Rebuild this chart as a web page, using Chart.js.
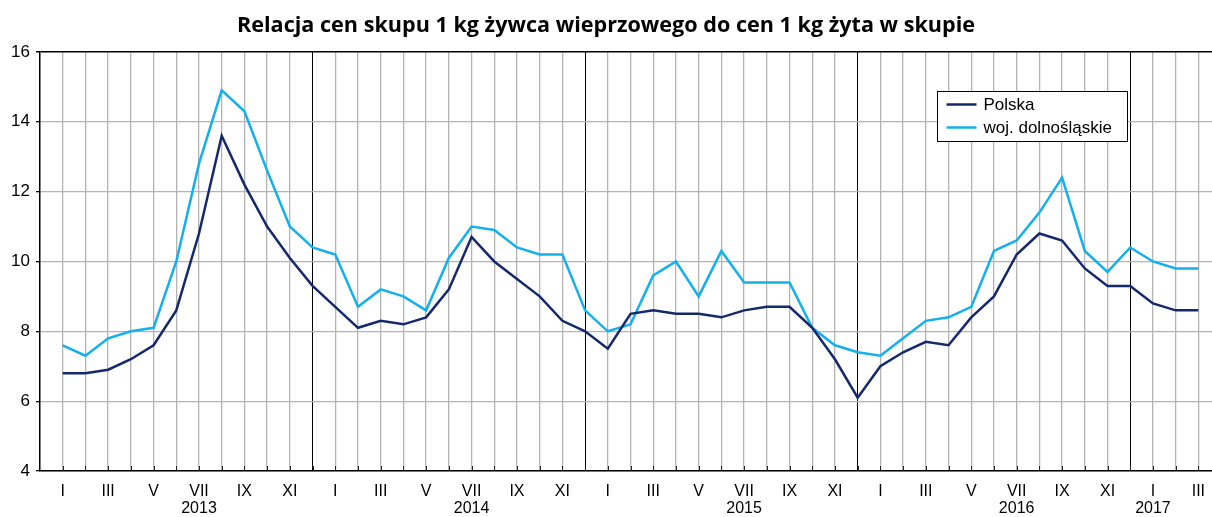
<!DOCTYPE html>
<html>
<head>
<meta charset="utf-8">
<script src="https://cdn.jsdelivr.net/npm/chart.js@4/dist/chart.umd.min.js"></script>
<style>
  html, body { margin: 0; padding: 0; background: #fff; }
  #wrap { width: 1212px; height: 517px; }
</style>
</head>
<body>
<div id="wrap"><canvas id="relacjaChart" width="1212" height="517"></canvas></div>
<script>
// months I 2013 .. III 2017
var months = ['I','II','III','IV','V','VI','VII','VIII','IX','X','XI','XII'];
var years = ['2013', '2014', '2015', '2016', '2017'];
var monthCount = 51;

// Polska
var polska = [
  6.8, 6.8, 6.9, 7.2, 7.6, 8.6, 10.8, 13.6, 12.2, 11.0, 10.1, 9.3,
  8.7, 8.1, 8.3, 8.2, 8.4, 9.2, 10.7, 10.0, 9.5, 9.0, 8.3, 8.0,
  7.5, 8.5, 8.6, 8.5, 8.5, 8.4, 8.6, 8.7, 8.7, 8.1, 7.2, 6.1,
  7.0, 7.4, 7.7, 7.6, 8.4, 9.0, 10.2, 10.8, 10.6, 9.8, 9.3, 9.3,
  8.8, 8.6, 8.6
];

// woj. dolnośląskie
var dolnoslaskie = [
  7.6, 7.3, 7.8, 8.0, 8.1, 10.0, 12.8, 14.9, 14.3, 12.6, 11.0, 10.4,
  10.2, 8.7, 9.2, 9.0, 8.6, 10.1, 11.0, 10.9, 10.4, 10.2, 10.2, 8.6,
  8.0, 8.2, 9.6, 10.0, 9.0, 10.3, 9.4, 9.4, 9.4, 8.1, 7.6, 7.4,
  7.3, 7.8, 8.3, 8.4, 8.7, 10.3, 10.6, 11.4, 12.4, 10.3, 9.7, 10.4,
  10.0, 9.8, 9.8
];

var yTicks = [4, 6, 8, 10, 12, 14, 16];

function toPoints(arr) {
  return arr.map(function (v, i) { return { x: i, y: v }; });
}

// year shown under VII, or under I for the last (short) year
function tickLabel(i) {
  var m = i % 12;
  var yr = Math.floor(i / 12);
  if (m % 2 !== 0) return '';
  var lastYear = yr === years.length - 1;
  if ((m === 6 && !lastYear) || (m === 0 && lastYear)) return [months[m], years[yr]];
  return months[m];
}

// legend in a box inside the plot + small inner ticks on the x axis
const boxLegend = {
  id: 'boxLegend',
  afterDatasetsDraw(chart) {
    const c = chart.ctx;
    const xs = chart.scales.x;
    const area = chart.chartArea;
    c.save();
    c.strokeStyle = '#222';
    c.lineWidth = 1;
    for (let i = 0; i < monthCount; i++) {
      const px = Math.round(xs.getPixelForValue(i)) + 0.5;
      c.beginPath();
      c.moveTo(px, area.bottom);
      c.lineTo(px, area.bottom - 5);
      c.stroke();
    }
    const bx = 937.5, by = 91.5, bw = 190, bh = 50;
    c.fillStyle = '#fff';
    c.fillRect(bx, by, bw, bh);
    c.strokeStyle = '#000';
    c.strokeRect(bx, by, bw, bh);
    c.font = '17px "Liberation Sans", Arial, sans-serif';
    c.textBaseline = 'middle';
    chart.data.datasets.forEach(function (ds, k) {
      const ly = by + 13 + k * 23;
      c.strokeStyle = ds.borderColor;
      c.lineWidth = 2.5;
      c.beginPath();
      c.moveTo(bx + 9, ly);
      c.lineTo(bx + 39, ly);
      c.stroke();
      c.fillStyle = '#000';
      c.fillText(ds.label, bx + 46, ly + 1);
    });
    c.restore();
  }
};

const ctx = document.getElementById('relacjaChart').getContext('2d');
const relacjaChart = new Chart(ctx, {
  type: 'line',
  data: {
    datasets: [{
      label: 'Polska',
      data: toPoints(polska),
      borderColor: '#14296b',
      borderWidth: 2.5,
      pointRadius: 0,
      tension: 0
    }, {
      label: 'woj. dolnośląskie',
      data: toPoints(dolnoslaskie),
      borderColor: '#13b0ec',
      borderWidth: 2.5,
      pointRadius: 0,
      tension: 0
    }]
  },
  options: {
    responsive: false,
    animation: false,
    layout: { padding: { left: 0, right: 0, top: 0, bottom: 0 } },
    plugins: {
      legend: { display: false },
      tooltip: { enabled: false },
      title: {
        display: true,
        text: 'Relacja cen skupu 1 kg żywca wieprzowego do cen 1 kg żyta w skupie',
        color: '#000',
        font: { family: '"Open Sans", sans-serif', size: 21.6, weight: 'bold' },
        padding: { top: 13, bottom: 13 }
      }
    },
    scales: {
      x: {
        type: 'linear',
        min: -1,
        max: 50.6,
        afterBuildTicks: function (axis) {
          const t = [];
          for (let i = 0; i < monthCount; i++) t.push({ value: i });
          axis.ticks = t;
        },
        afterFit: function (axis) {
          axis.height = 46;
          axis.paddingLeft = 0;
          axis.paddingRight = 0;
        },
        border: { display: true, color: '#000', width: 1.5 },
        grid: {
          drawTicks: false,
          color: function (c) {
            return (c.tick && c.tick.value % 12 === 11) ? '#000' : '#b4b4b4';
          },
          lineWidth: function (c) {
            return (c.tick && c.tick.value % 12 === 11) ? 1 : 1.3;
          }
        },
        ticks: {
          autoSkip: false,
          maxRotation: 0,
          padding: 12,
          color: '#000',
          font: { family: '"Liberation Sans", Arial, sans-serif', size: 16, lineHeight: 1.05 },
          callback: function (v) { return tickLabel(v); }
        }
      },
      y: {
        min: 4,
        max: 16,
        afterBuildTicks: function (axis) {
          axis.ticks = yTicks.map(function (v) { return { value: v }; });
        },
        afterFit: function (axis) { axis.width = 40; },
        border: { display: true, color: '#000', width: 1.5 },
        grid: {
          tickLength: 4,
          tickColor: '#000',
          color: function (c) {
            return (c.tick && c.tick.value === 16) ? '#000' : '#b4b4b4';
          },
          lineWidth: function (c) {
            return (c.tick && c.tick.value === 16) ? 1.5 : 1.3;
          }
        },
        ticks: {
          padding: 6,
          color: '#000',
          font: { family: '"Liberation Sans", Arial, sans-serif', size: 17 }
        }
      }
    }
  },
  plugins: [boxLegend]
});
</script>
</body>
</html>
